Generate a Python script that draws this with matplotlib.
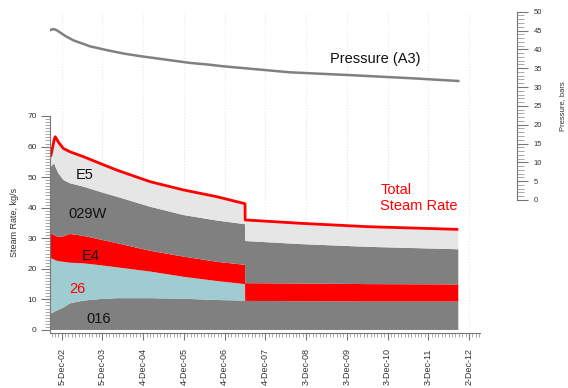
import numpy as np
import pandas as pd
import matplotlib
matplotlib.use('Agg')
import matplotlib.pyplot as plt
import matplotlib.dates as mdates
from matplotlib.ticker import MultipleLocator, FixedLocator, FixedFormatter

plt.rcParams['font.family'] = ['Liberation Sans', 'DejaVu Sans']

# steam rate by well group, kg/s (stacked from the bottom up)
rate_dates = pd.to_datetime([
    '2002-08-28', '2002-09-30', '2002-10-08', '2002-11-05', '2002-12-19',
    '2003-02-17', '2003-06-17', '2003-11-13', '2004-04-12', '2005-02-05',
    '2005-12-01', '2006-09-25', '2007-06-05', '2007-06-06', '2008-10-10',
    '2010-05-31', '2012-08-28'])
w016 = [5.4, 5.9, 6.1, 6.6, 7.3, 8.7, 9.6, 10.1, 10.4, 10.4, 10.2, 9.8, 9.6, 9.5, 9.4, 9.3, 9.3]
w26 = [18.1, 17.1, 16.7, 15.9, 15.0, 13.3, 12.2, 11.1, 10.1, 8.7, 7.2, 6.2, 5.4, 0, 0, 0, 0]
we4 = [8.1, 8.0, 8.0, 8.0, 8.3, 9.4, 9.0, 8.4, 7.9, 6.8, 6.6, 6.3, 6.3, 5.8, 5.8, 5.7, 5.6]
w029 = [21.8, 23.5, 22.7, 20.8, 18.5, 16.6, 16.1, 15.6, 15.2, 14.4, 13.6, 13.5, 13.3, 13.8, 12.9, 12.2, 11.5]
we5 = [3.3, 8.0, 9.7, 10.2, 10.3, 10.3, 9.8, 9.3, 8.7, 8.2, 8.2, 7.8, 6.7, 6.9, 6.8, 6.6, 6.5]

# reservoir pressure, bars
pres_dates = pd.to_datetime([
    '2002-08-22', '2002-09-21', '2002-10-21', '2002-11-20', '2003-01-04',
    '2003-03-19', '2003-06-02', '2003-08-16', '2004-01-13', '2004-06-09',
    '2004-11-06', '2005-04-05', '2005-09-01', '2006-01-29', '2006-06-27',
    '2006-11-23', '2007-04-22', '2007-09-19', '2008-02-15', '2008-07-13',
    '2009-12-03', '2011-07-24', '2012-08-28'])
pressure = [45.1, 45.4, 45.1, 44.5, 43.6, 42.4, 41.6, 40.8, 39.8, 38.9,
            38.2, 37.6, 37.0, 36.4, 36.0, 35.5, 35.1, 34.7, 34.3, 33.9,
            33.2, 32.3, 31.6]

tick_labels = ['5-Dec-02', '5-Dec-03', '4-Dec-04', '4-Dec-05', '4-Dec-06', '4-Dec-07',
               '3-Dec-08', '3-Dec-09', '3-Dec-10', '3-Dec-11', '2-Dec-12']

GRAY = '#808080'
LIGHT = '#e6e6e6'
RED = '#ff0000'
BLUE = '#9fccd1'

W, H = 568, 388
fig = plt.figure(figsize=(W / 100, H / 100), dpi=100)
ax = fig.add_axes([50 / W, (H - 333) / H, 430 / W, 217 / H])
axp = fig.add_axes([50 / W, (H - 200) / H, 467 / W, 188.3 / H])
for a in (ax, axp):
    a.set_facecolor('none')
# keep the pressure axes (and its grid) underneath the stacked areas
axp.set_zorder(1)
ax.set_zorder(2)

# shared time scale for both axes
tick_pos = mdates.date2num(pd.to_datetime(tick_labels, format='%d-%b-%y'))
px_per_day = 407.3 / (tick_pos[-1] - tick_pos[0])
x0 = tick_pos[0] - 11.7 / px_per_day
ax.set_xlim(x0, x0 + 430 / px_per_day)
axp.set_xlim(x0, x0 + 467 / px_per_day)

x = mdates.date2num(rate_dates)
ax.stackplot(x, w016, w26, we4, w029, we5,
             colors=[GRAY, BLUE, RED, GRAY, LIGHT], linewidth=0)
total = np.sum([w016, w26, we4, w029, we5], axis=0)
ax.plot(x, total, color=RED, lw=2, solid_capstyle='butt')

ax.set_ylim(-1, 70)
ax.yaxis.set_major_locator(MultipleLocator(10))
ax.yaxis.set_minor_locator(FixedLocator(np.arange(0, 71, 1)))
ax.xaxis.set_major_locator(FixedLocator(tick_pos))
ax.xaxis.set_major_formatter(FixedFormatter(tick_labels))
minor = tick_pos[0] + np.arange(-3, 125) * 365 / 12
ax.xaxis.set_minor_locator(FixedLocator(minor[minor <= ax.get_xlim()[1]]))
ax.tick_params(axis='x', which='major', labelsize=6.5, rotation=90, length=5,
               pad=6, color='#777777', labelcolor='#333333')
ax.tick_params(axis='x', which='minor', length=3, color='#999999')
ax.tick_params(axis='y', which='major', labelsize=6, length=6.5, pad=3,
               color='#777777', labelcolor='#333333')
ax.tick_params(axis='y', which='minor', length=3.6, color='#999999')
for s in ('top', 'right'):
    ax.spines[s].set_visible(False)
for s in ('left', 'bottom'):
    ax.spines[s].set_color('#777777')
    ax.spines[s].set_linewidth(0.8)
ax.set_ylabel('Steam Rate, kg/s', fontsize=6.5, color='#333333')
ax.yaxis.set_label_coords((19 - 50) / 430, 0.51)
ax.set_axisbelow(True)
ax.grid(axis='x', which='major', color='#ebebeb', ls=':', lw=0.8)

# pressure curve on its own scale above the stack
axp.plot(mdates.date2num(pres_dates), pressure, color=GRAY, lw=1.8)
axp.set_ylim(0, 50)
axp.yaxis.tick_right()
axp.yaxis.set_label_position('right')
axp.yaxis.set_major_locator(MultipleLocator(5))
axp.yaxis.set_minor_locator(MultipleLocator(1))
axp.tick_params(axis='y', which='major', labelsize=5.5, length=8, pad=4,
                color='#777777', labelcolor='#333333')
axp.tick_params(axis='y', which='minor', length=5, color='#999999')
axp.tick_params(axis='x', which='both', bottom=False, labelbottom=False)
axp.xaxis.set_major_locator(FixedLocator(tick_pos))
for s in ('top', 'left', 'bottom'):
    axp.spines[s].set_visible(False)
axp.spines['right'].set_color('#777777')
axp.spines['right'].set_linewidth(0.8)
axp.set_ylabel('Pressure, bars', fontsize=5.5, color='#333333')
axp.yaxis.set_label_coords((559 - 50) / 467, 0.5)
axp.grid(axis='x', which='major', color='#ebebeb', ls=':', lw=0.8)

# series labels
d = mdates.datestr2num
ax.text(d('2003-07-02'), 50.7, 'E5', fontsize=10.5, ha='center', va='center', color='#111111')
ax.text(d('2003-07-20'), 38.0, '029W', fontsize=10.5, ha='center', va='center', color='#111111')
ax.text(d('2003-08-25'), 24.2, 'E4', fontsize=10.5, ha='center', va='center', color='#111111')
ax.text(d('2003-04-21'), 13.4, '26', fontsize=10.5, ha='center', va='center', color=RED)
ax.text(d('2003-11-05'), 3.6, '016', fontsize=10.5, ha='center', va='center', color='#111111')
ax.text(d('2010-09-29'), 43.2, 'Total\nSteam Rate', fontsize=10.5, ha='left', va='center',
        color=RED, linespacing=1.2)
axp.text(d('2010-08-15'), 37.4, 'Pressure (A3)', fontsize=10.5, ha='center', va='center',
         color='#111111')

fig.savefig('out.png', dpi=100)
